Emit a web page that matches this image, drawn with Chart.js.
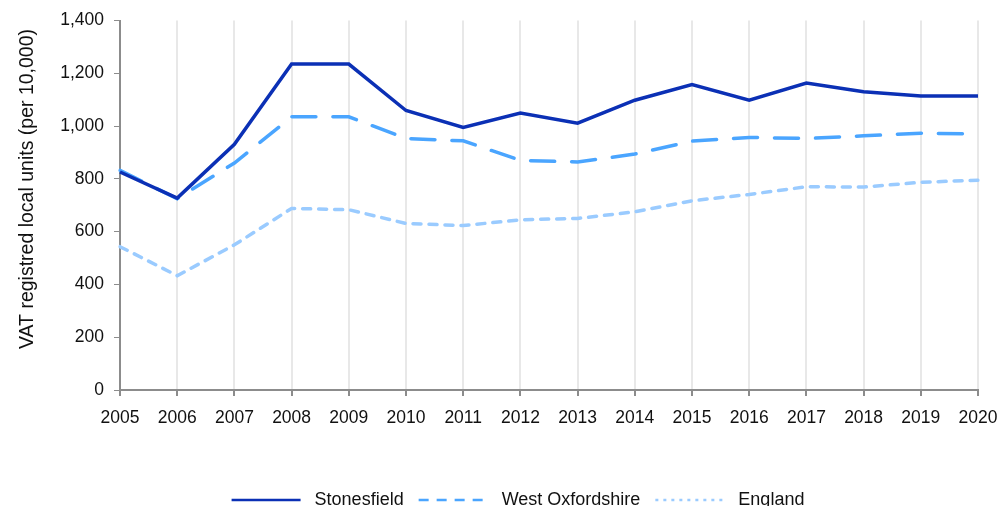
<!DOCTYPE html>
<html>
<head>
<meta charset="utf-8">
<script src="https://cdn.jsdelivr.net/npm/chart.js@4/dist/chart.umd.min.js"></script>
<style>
  html, body { margin: 0; padding: 0; background: #fff; overflow: hidden; }
  #wrap { width: 999px; height: 519px; position: relative; }
</style>
</head>
<body>
<div id="wrap"><canvas id="graph"></canvas></div>
<script>
const years = ['2005', '2006', '2007', '2008', '2009', '2010', '2011', '2012',
               '2013', '2014', '2015', '2016', '2017', '2018', '2019', '2020'];

const stonesfield = [826, 727, 931, 1235, 1235, 1059, 995, 1049, 1011, 1098, 1157, 1098, 1163, 1130, 1114, 1114];
const westOxfordshire = [832, 725, 860, 1035, 1035, 953, 944, 870, 864, 894, 943, 957, 953, 963, 973, 970];
const england = [543, 433, 550, 688, 683, 631, 623, 645, 650, 675, 717, 741, 770, 769, 787, 795];

const yTicks = [0, 200, 400, 600, 800, 1000, 1200, 1400];

const police = "'Liberation Sans', Arial, sans-serif";
Chart.defaults.font.family = police;
Chart.defaults.color = '#111';

// tirets plus courts dans la légende
const tiretsLegende = [[], [10, 8], [3, 5]];

// décale la légende vers la droite (centrée sous la zone du graphique)
const decalageLegende = {
  id: 'decalageLegende',
  afterLayout(chart) {
    chart.legend.left += 29;
    chart.legend.right += 29;
  }
};

new Chart(document.getElementById('graph'), {
  type: 'line',
  data: {
    labels: years,
    datasets: [
      {
        label: 'Stonesfield',
        data: stonesfield,
        borderColor: '#0b30b5',
        backgroundColor: '#0b30b5',
        borderWidth: 3.5,
        pointRadius: 0,
        tension: 0
      },
      {
        label: 'West Oxfordshire',
        data: westOxfordshire,
        borderColor: '#4aa5ff',
        backgroundColor: '#4aa5ff',
        borderWidth: 3.5,
        borderDash: [24, 17],
        borderCapStyle: 'round',
        pointRadius: 0,
        tension: 0
      },
      {
        label: 'England',
        data: england,
        borderColor: '#9acbff',
        backgroundColor: '#9acbff',
        borderWidth: 3.5,
        borderDash: [8, 8],
        borderCapStyle: 'round',
        pointRadius: 0,
        tension: 0
      }
    ]
  },
  plugins: [decalageLegende],
  options: {
    responsive: true,
    maintainAspectRatio: false,
    animation: false,
    layout: { padding: { top: 20, right: 21, left: 0, bottom: 0 } },
    plugins: {
      tooltip: { enabled: false },
      legend: {
        position: 'bottom',
        labels: {
          usePointStyle: true,
          pointStyle: 'line',
          pointStyleWidth: 69,
          boxHeight: 18,
          padding: 15,
          font: { size: 18 },
          color: '#111',
          generateLabels: chart => {
            const items = Chart.defaults.plugins.legend.labels.generateLabels(chart);
            items.forEach((item, i) => {
              item.text = ' ' + item.text;
              item.lineWidth = 2.5;
              item.lineDash = tiretsLegende[i];
            });
            return items;
          }
        }
      }
    },
    scales: {
      x: {
        offset: false,
        grid: {
          drawOnChartArea: true,
          color: '#e8e8e8',
          lineWidth: 2,
          tickColor: '#8c8c8c',
          tickLength: 6
        },
        border: { color: '#8c8c8c', width: 2 },
        ticks: { font: { size: 17.5 }, color: '#111', padding: 12, maxRotation: 0, autoSkip: false },
        afterFit: s => {
          s.height = 86;
          s.paddingLeft = 0;
          s.paddingRight = 0;
        }
      },
      y: {
        min: 0,
        max: 1400,
        afterBuildTicks: s => { s.ticks = yTicks.map(v => ({ value: v })); },
        grid: {
          drawOnChartArea: false,
          tickColor: '#8c8c8c',
          tickLength: 6
        },
        border: { color: '#8c8c8c', width: 2 },
        ticks: {
          font: { size: 17.5 },
          color: '#111',
          padding: 10,
          callback: v => v.toLocaleString('en-GB')
        },
        title: {
          display: true,
          // espaces en tête : remonte un peu le titre
          text: '      VAT registred local units (per 10,000)',
          font: { size: 19.5 },
          color: '#111',
          padding: { top: 16, bottom: 0 }
        },
        afterFit: s => { s.width = 120; }
      }
    }
  }
});
</script>
</body>
</html>
